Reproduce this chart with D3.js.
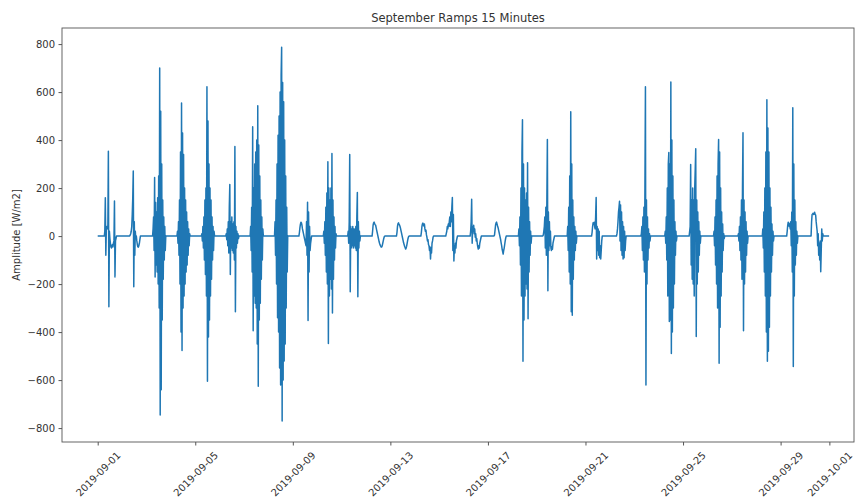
<!DOCTYPE html>
<html lang="en">
  <head>
    <meta charset="UTF-8" />
    <title>September Ramps 15 Minutes</title>
    <script src="https://d3js.org/d3.v7.min.js"></script>
    <style>
      body { margin: 0; background: #fff; }
      svg text { font-family: "DejaVu Sans", sans-serif; fill: #333; }
    </style>
  </head>
  <body>
    <div id="chart"></div>
    <script>
      // data: one row per day, ramp values [W/m2] every 30 min from 06:00 (night = 0)
      var firstDay = "2019-09-01";
      var stepMinutes = 30;
      var startHour = 6;
      var ramps = [
        [0,0,20,160,-80,30,40,30,35,353,-294,20,-10,-30,-45,-50,-40,-35,-45,-30,-20,146,-170,-20,-10,0,0], // 09-01
        [0,0,0,0,5,10,20,40,90,160,271,-211,60,-80,20,-10,0,-20,-35,-45,-46,-40,-30,-15,0,0,0], // 09-02
        [0,30,80,-60,244,-170,140,-120,100,-150,160,-200,250,-300,700,-746,520,-640,300,-350,150,-180,80,-100,40,-60,0], // 09-03
        [0,20,-30,60,-80,150,-200,350,-400,555,-477,430,-300,340,-250,200,-200,150,-150,100,-120,60,-80,30,-40,10,0], // 09-04
        [0,10,-20,40,-50,80,-100,150,-160,200,-250,622,-605,480,-420,300,-350,200,-250,150,-180,80,-100,40,-60,20,0], // 09-05
        [0,10,-15,30,-40,60,-70,120,215,-160,60,-50,80,-60,50,-70,60,-100,373,-315,40,-50,20,-30,10,-10,0], // 09-06
        [0,40,-60,120,-150,456,-394,200,-250,300,-280,350,-300,400,-450,543,-626,380,-350,250,-280,150,-180,80,-100,30,0], // 09-07
        [0,60,-80,150,-200,300,-340,420,-400,500,-550,600,-620,670,787,-771,640,-600,560,-520,400,-450,250,-300,120,-150,0], // 09-08
        [0,15,35,50,58,55,45,30,20,10,0,-10,-20,-30,-40,60,-80,141,-352,100,-150,40,-60,-30,-15,0,0], // 09-09
        [0,20,-30,60,-80,120,-150,180,-200,310,-448,200,-250,150,-180,200,-220,344,-320,150,-180,80,-100,40,-50,10,0], // 09-10
        [0,20,-30,60,340,-232,40,-50,30,-40,40,-50,30,-40,30,-50,40,-60,80,182,-253,60,-50,20,-20,0,0], // 09-11
        [0,20,45,55,58,52,48,45,35,25,15,5,-5,-15,-25,-32,-38,-42,-46,-45,-40,-30,-20,-10,-3,0,0], // 09-12
        [0,15,40,52,55,50,46,40,32,22,12,2,-8,-18,-28,-35,-42,-48,-54,-50,-42,-30,-18,-8,-2,0,0], // 09-13
        [0,15,38,50,54,48,42,50,30,20,25,5,-5,-20,-15,-35,-40,-60,-45,-95,-50,-70,-30,-20,-5,0,0], // 09-14
        [0,0,10,20,40,30,50,40,60,80,40,100,60,120,161,-60,90,-104,-40,-70,-30,-50,-20,-10,0,0,0], // 09-15
        [0,0,20,60,153,-30,40,20,45,10,30,-5,10,-20,-10,-30,-45,-54,-40,-50,-30,-20,-10,0,0,0,0], // 09-16
        [0,5,25,45,55,58,50,42,35,25,15,5,-5,-15,-28,-40,-55,-65,-75,-60,-50,-35,-20,-8,0,0,0], // 09-17
        [0,30,-40,80,-120,200,-250,350,485,-522,300,-350,200,-250,150,-200,180,-220,306,-344,120,-150,60,-80,20,-30,0], // 09-18
        [0,5,20,40,80,-50,120,-80,150,402,-228,100,-60,60,-40,20,-50,-60,-45,-55,-30,-20,-10,0,0,0,0], // 09-19
        [0,40,-60,120,-150,250,-200,518,-315,300,-330,150,-180,80,-100,40,-60,20,-30,0,0,0,0,0,0,0,0], // 09-20
        [0,15,40,55,50,58,40,30,80,161,-95,40,-60,30,-80,20,-90,-40,-95,-60,-20,0,0,0,0,0,0], // 09-21
        [0,0,10,30,60,100,120,145,-20,130,-60,100,-80,60,-95,40,-90,20,-60,-20,0,0,0,0,0,0,0], // 09-22
        [0,0,10,40,-60,80,-100,120,-150,200,622,-621,150,-200,80,-100,30,-50,10,-20,0,0,0,0,0,0,0], // 09-23
        [0,20,-30,80,-100,200,-250,300,348,-356,300,-350,642,-489,400,-400,250,-300,150,-200,60,-80,20,-20,0,0,0], // 09-24
        [0,20,40,298,-120,150,-180,200,-200,150,-250,200,277,364,-418,150,-200,100,-150,60,-80,20,-30,0,0,0,0], // 09-25
        [0,20,-40,80,-120,150,-200,250,-300,300,402,-530,350,-380,200,-250,100,-150,50,-60,10,-10,0,0,0,0,0], // 09-26
        [0,10,-20,40,-60,80,-100,150,-180,200,431,-394,150,-200,100,-150,60,-80,20,-30,0,0,0,0,0,0,0], // 09-27
        [0,30,-50,100,-150,200,-250,350,-400,568,-522,450,-480,350,-380,200,-250,120,-150,50,-80,20,-20,0,0,0,0], // 09-28
        [0,20,45,58,55,40,50,30,60,-40,100,-150,535,-543,300,-250,150,-120,60,-80,20,-30,0,0,0,0,0], // 09-29
        [0,60,90,92,95,90,92,99,90,88,60,40,20,-40,10,-80,-30,-100,-20,-149,-60,30,-20,10,0,0,0] // 09-30
      ];
      var xTicks = ["2019-09-01","2019-09-05","2019-09-09","2019-09-13","2019-09-17","2019-09-21","2019-09-25","2019-09-29","2019-10-01"];
      var yTicks = [-800, -600, -400, -200, 0, 200, 400, 600, 800];

      function draw() {
        var W = 856, H = 501;
        var mLeft = 62, mRight = 854, mTop = 28, mBottom = 442;

        var parse = d3.utcParse("%Y-%m-%d");
        var day0 = parse(firstDay);

        // build the time series
        var points = [];
        ramps.forEach(function (vals, d) {
          var dayStart = d3.utcDay.offset(day0, d);
          points.push({ t: dayStart, v: 0 });
          vals.forEach(function (v, i) {
            var t = d3.utcMinute.offset(dayStart, startHour * 60 + i * stepMinutes);
            points.push({ t: t, v: v });
          });
        });
        points.push({ t: d3.utcMinute.offset(d3.utcDay.offset(day0, ramps.length), -15), v: 0 });

        // matplotlib-like margins around the data
        var x = d3.scaleUtc()
          .domain([d3.utcMinute.offset(day0, -2108), d3.utcMinute.offset(day0, 44654)])
          .range([mLeft, mRight]);
        var y = d3.scaleLinear().domain([-858, 867]).range([mBottom, mTop]);

        var svg = d3.select("#chart").append("svg")
          .attr("width", W)
          .attr("height", H);

        svg.append("defs").append("clipPath").attr("id", "clip")
          .append("rect")
          .attr("x", mLeft).attr("y", mTop)
          .attr("width", mRight - mLeft).attr("height", mBottom - mTop);

        var line = d3.line()
          .x(function (d) { return x(d.t); })
          .y(function (d) { return y(d.v); });

        svg.append("path")
          .datum(points)
          .attr("clip-path", "url(#clip)")
          .attr("d", line)
          .attr("fill", "none")
          .attr("stroke", "#1f77b4")
          .attr("stroke-width", 1.5)
          .attr("stroke-linejoin", "round");

        // spines
        svg.append("rect")
          .attr("x", mLeft).attr("y", mTop)
          .attr("width", mRight - mLeft).attr("height", mBottom - mTop)
          .attr("fill", "none")
          .attr("stroke", "#555")
          .attr("stroke-width", 0.9);

        // y axis
        var gy = svg.append("g")
          .attr("transform", "translate(" + mLeft + ",0)")
          .call(d3.axisLeft(y).tickValues(yTicks).tickSize(3.5).tickPadding(3.5).tickFormat(d3.format("d")));
        gy.select(".domain").remove();
        gy.selectAll("line").attr("stroke", "#555");
        gy.selectAll("text").attr("font-size", 10).attr("fill", "#333");

        // x axis
        var gx = svg.append("g")
          .attr("transform", "translate(0," + mBottom + ")")
          .call(d3.axisBottom(x).tickValues(xTicks.map(parse)).tickSize(3.5).tickFormat(d3.utcFormat("%Y-%m-%d")));
        gx.select(".domain").remove();
        gx.selectAll("line").attr("stroke", "#555");
        gx.selectAll("text")
          .attr("font-size", 10)
          .attr("fill", "#333")
          .attr("y", 0)
          .attr("dy", null)
          .attr("text-anchor", "middle")
          .attr("dominant-baseline", "central")
          .attr("transform", "translate(0,32) rotate(-45)");

        // title and label
        svg.append("text")
          .attr("x", (mLeft + mRight) / 2)
          .attr("y", 22)
          .attr("text-anchor", "middle")
          .attr("font-size", 11.5)
          .attr("fill", "#222")
          .text("September Ramps 15 Minutes");

        svg.append("text")
          .attr("transform", "translate(20," + (mTop + mBottom) / 2 + ") rotate(-90)")
          .attr("text-anchor", "middle")
          .attr("font-size", 10)
          .attr("fill", "#333")
          .text("Amplitude [W/m2]");
      }

      draw();
    </script>
  </body>
</html>
